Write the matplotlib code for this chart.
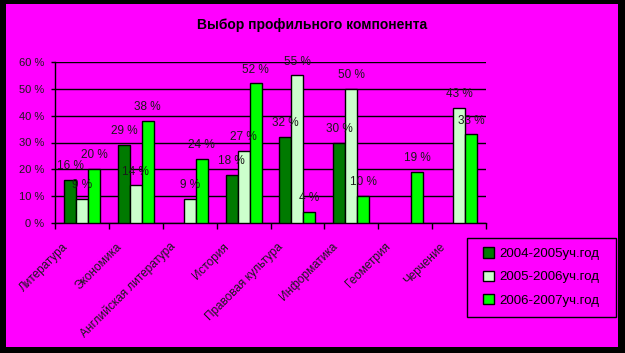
import numpy as np
import matplotlib
matplotlib.use('Agg')
import matplotlib.pyplot as plt
import matplotlib.transforms as mtransforms
from matplotlib.patches import Patch, Rectangle

plt.rcParams['font.family'] = ['Liberation Sans', 'DejaVu Sans']

categories = ['Литература', 'Экономика', 'Английская литература', 'История',
              'Правовая культура', 'Информатика', 'Геометрия', 'Черчение']
series_names = ['2004-2005уч.год', '2005-2006уч.год', '2006-2007уч.год']
y2005 = [16, 29, None, 18, 32, 30, None, None]
y2006 = [9, 14, 9, 27, 55, 50, None, 43]
y2007 = [20, 38, 24, 52, 4, 10, 19, 33]
colors = ['#007a00', '#ccffcc', '#00ff00']
yticks = [0, 10, 20, 30, 40, 50, 60]

W, H = 625, 353
fig = plt.figure(figsize=(W / 100, H / 100), dpi=100, facecolor='black')
fig.patches.append(Rectangle((6 / W, 6 / H), (618 - 6) / W, (348 - 5) / H,
                             transform=fig.transFigure, facecolor='#ff00ff',
                             edgecolor='none', zorder=-5))

ax = fig.add_axes([55 / W, (H - 223) / H, (486 - 55) / W, (223 - 62) / H])
ax.set_facecolor('none')

x = np.arange(len(categories)) + 0.5
bw = 12 / 54
for k, (vals, col) in enumerate(zip([y2005, y2006, y2007], colors)):
    xs = x + (k - 1) * bw
    for xi, v in zip(xs, vals):
        if v is None:
            continue
        ax.bar(xi, v, width=bw, color=col, edgecolor='black', linewidth=1, zorder=3)
        ax.annotate(f'{v} %', (xi, v), xytext=(0, 10), textcoords='offset points',
                    ha='center', va='center', fontsize=8.5, color='#1a1a1a', zorder=4)

ax.set_xlim(0, len(categories))
ax.set_ylim(0, 60)
ax.set_yticks(yticks)
ax.set_yticklabels([f'{t} %' for t in yticks], fontsize=8, color='#1a1a1a')
ax.yaxis.grid(True, color='black', linewidth=1, zorder=1)
ax.tick_params(axis='y', length=3, width=1, color='black', pad=5)

ax.set_xticks(np.arange(len(categories) + 1), minor=True)
ax.tick_params(axis='x', which='minor', length=4, width=1, color='black')
ax.set_xticks(x)
ax.set_xticklabels(categories, rotation=45, ha='right', va='center',
                   rotation_mode='anchor', fontsize=8.5, color='#1a1a1a')
ax.tick_params(axis='x', which='major', length=0, pad=0)
offset = mtransforms.ScaledTranslation(-0.16, -0.22, fig.dpi_scale_trans)
for lab in ax.get_xticklabels():
    lab.set_transform(lab.get_transform() + offset)

for s in ['top', 'right']:
    ax.spines[s].set_visible(False)
for s in ['left', 'bottom']:
    ax.spines[s].set_color('black')
    ax.spines[s].set_linewidth(1)

fig.text(312 / W, 1 - 25 / H, 'Выбор профильного компонента', ha='center',
         va='center', fontsize=10, fontweight='bold', color='black')

# legend frame drawn by hand, entries placed inside it
fig.patches.append(Rectangle((467 / W, 1 - 317 / H), (616 - 467) / W, (317 - 238) / H,
                             transform=fig.transFigure, facecolor='none',
                             edgecolor='black', linewidth=1, zorder=5))
handles = [Patch(facecolor=c, edgecolor='black', linewidth=1) for c in colors]
leg = fig.legend(handles, series_names, loc='center left',
                 bbox_to_anchor=(483 / W, 1 - 277 / H), fontsize=9.5,
                 handlelength=0.85, handleheight=0.85, handletextpad=0.35,
                 labelspacing=0.8, borderpad=0, borderaxespad=0,
                 frameon=False)

fig.savefig('out.png', dpi=100, facecolor='black')
